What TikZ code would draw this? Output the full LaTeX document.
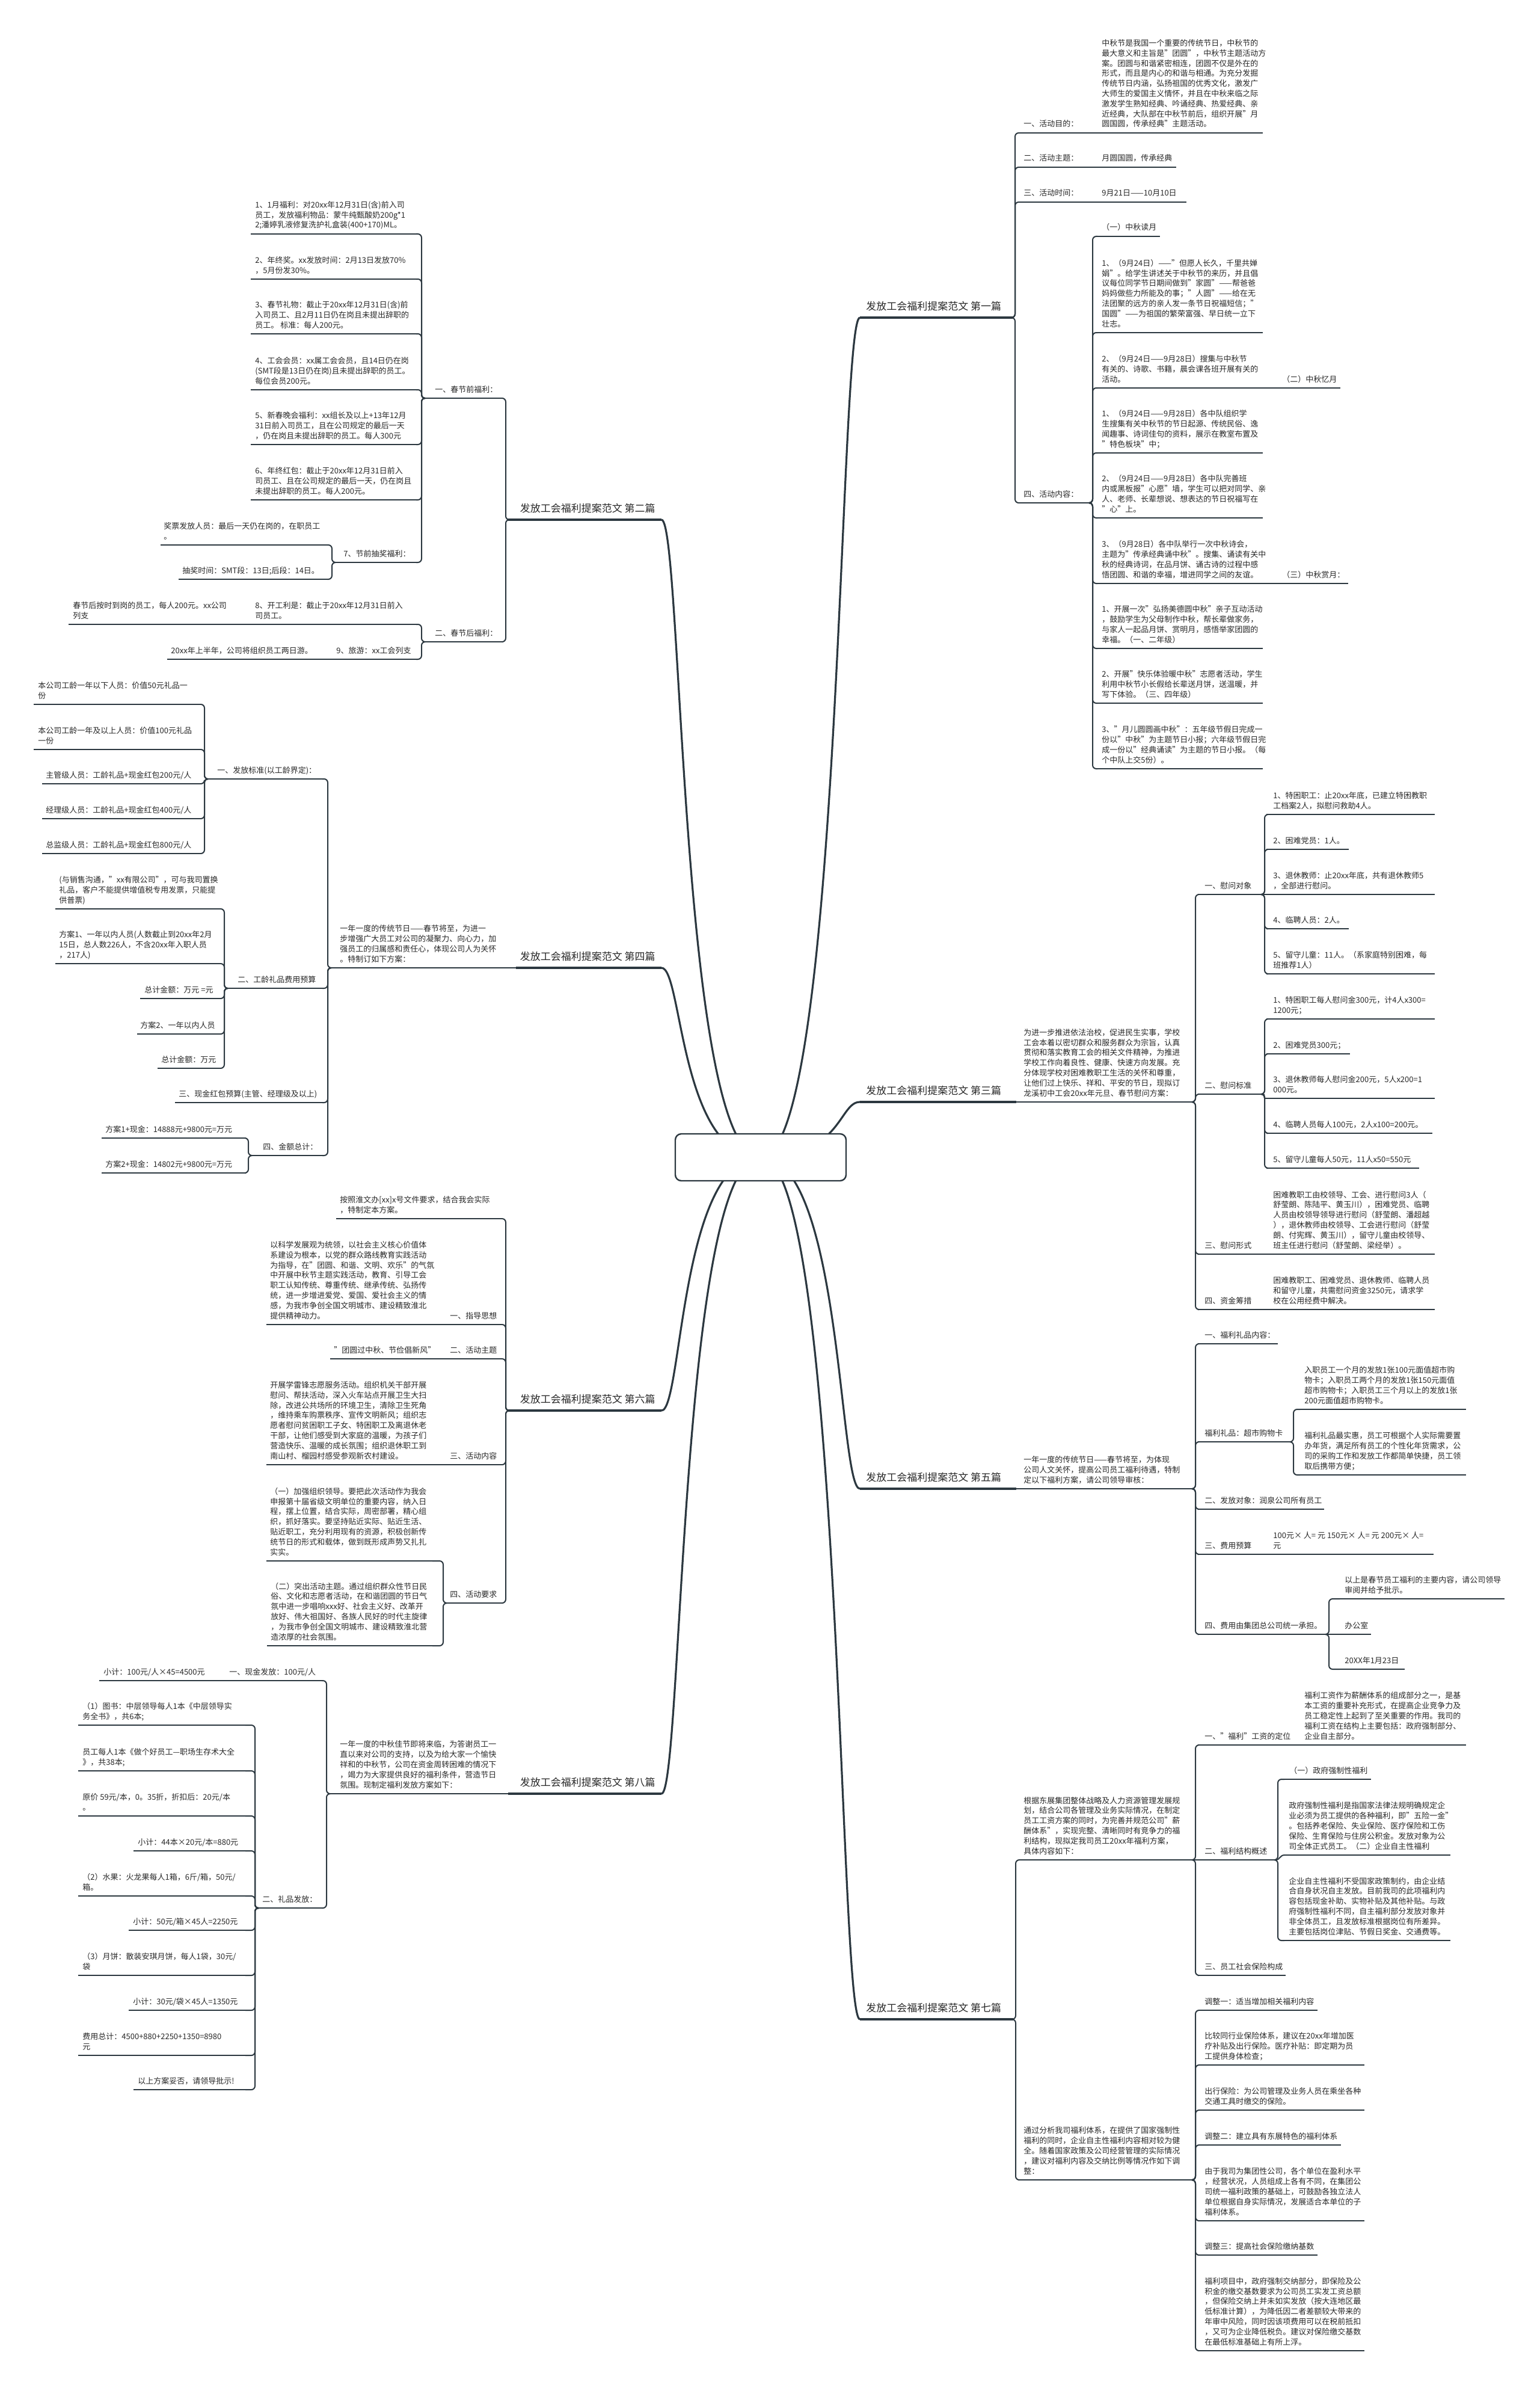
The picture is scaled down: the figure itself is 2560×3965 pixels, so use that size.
\documentclass[tikz,border=0pt]{standalone}
\usepackage{fontspec}
\setmainfont{Noto Sans CJK SC}
\definecolor{linec}{RGB}{44,56,64}
\definecolor{txtc}{RGB}{40,40,40}
\newcommand{\mytl}[1]{\begin{tabular}[b]{@{}l@{}}#1\end{tabular}}
\tikzset{
  txt/.style={inner sep=0pt, anchor=base west, font=\fontsize{6.5}{8.4}\selectfont, text=txtc},
  mtxt/.style={inner sep=0pt, font=\fontsize{8.5}{10}\selectfont, text=txtc},
  ul/.style={line width=1pt, draw=linec},
  mul/.style={line width=1.6pt, draw=linec},
  cn/.style={line width=1pt, draw=linec, rounded corners=3pt},
  mcn/.style={line width=1.6pt, draw=linec},
  rootbox/.style={draw=linec, line width=1.2pt, rounded corners=5pt, fill=white, minimum width=142pt, minimum height=39pt, inner sep=0pt}
}
% node with underline: [text offset]{name}{xL}{xR}{yU}{text}
\newcommand{\mynd}[6][8]{%
  \coordinate (#2-l) at (#3,#5);
  \coordinate (#2-r) at (#4,#5);
  \draw[ul] (#2-l) -- (#2-r);
  \node[txt] (#2) at (#3+#1,#5-10) {\mytl{#6}};
}
\newcommand{\mainR}[5]{%
  \coordinate (#1-l) at (#2,#4);
  \coordinate (#1-r) at (#3,#4);
  \draw[mul] (#1-l) -- (#1-r);
  \node[mtxt, anchor=base west] (#1) at (#2+10,#4-13) {#5};
}
\newcommand{\mainL}[5]{%
  \coordinate (#1-l) at (#2,#4);
  \coordinate (#1-r) at (#3,#4);
  \draw[mul] (#1-l) -- (#1-r);
  \node[mtxt, anchor=base east] (#1) at (#3-10,#4-13) {#5};
}
\newcommand{\conR}[2]{\draw[cn] (#1-r) -- ++(4,0) |- (#2-l);}
\newcommand{\conL}[2]{\draw[cn] (#1-l) -- ++(-4,0) |- (#2-r);}
\newcommand{\strR}[2]{\draw[cn] (#1-r) -- (#2-l);}
\newcommand{\strL}[2]{\draw[cn] (#1-l) -- (#2-r);}
\newcommand{\curR}[2]{\draw[cn] (#1-r) .. controls +(8,0) and +(-8,0) .. (#2-l);}

\begin{document}
\begin{tikzpicture}[x=0.5pt, y=-0.5pt]
\fill[white] (0,0) rectangle (2560,3965);
\useasboundingbox (0,0) rectangle (2560,3965);

% ================= 第一篇 =================
\mainR{M1}{1430}{1684}{528}{发放工会福利提案范文 第一篇}
\mynd{A1}{1694}{1801}{221}{一、活动目的：}
\mynd[7]{A1a}{1825}{2100}{221}{中秋节是我国一个重要的传统节日，中秋节的\\最大意义和主旨是"团圆"，中秋节主题活动方\\案。团圆与和谐紧密相连，团圆不仅是外在的\\形式，而且是内心的和谐与相通。为充分发掘\\传统节日内涵，弘扬祖国的优秀文化，激发广\\大师生的爱国主义情怀，并且在中秋来临之际\\激发学生熟知经典、吟诵经典、热爱经典、亲\\近经典，大队部在中秋节前后，组织开展"月\\圆国圆，传承经典"主题活动。}
\mynd{A2}{1694}{1801}{278}{二、活动主题：}
\mynd[7]{A2a}{1825}{1956}{278}{月圆国圆，传承经典}
\mynd{A3}{1694}{1801}{336}{三、活动时间：}
\mynd[7]{A3a}{1825}{1973}{336}{9月21日——10月10日}
\mynd{A4}{1694}{1813}{836}{四、活动内容：}
\mynd[7]{A41}{1825}{1929}{393}{（一）中秋读月}
\mynd[7]{A42}{1825}{2100}{553}{1、（9月24日）——"但愿人长久，千里共婵\\娟"。给学生讲述关于中秋节的来历，并且倡\\议每位同学节日期间做到"家圆"——帮爸爸\\妈妈做些力所能及的事；"人圆"——给在无\\法团聚的远方的亲人发一条节日祝福短信；"\\国圆"——为祖国的繁荣富强、早日统一立下\\壮志。}
\mynd[7]{A43}{1825}{2100}{645}{2、（9月24日——9月28日）搜集与中秋节\\有关的、诗歌、书籍，晨会课各班开展有关的\\活动。}
\mynd[8]{A43a}{2124}{2229}{645}{（二）中秋忆月}
\mynd[7]{A44}{1825}{2100}{753}{1、（9月24日——9月28日）各中队组织学\\生搜集有关中秋节的节日起源、传统民俗、逸\\闻趣事、诗词佳句的资料，展示在教室布置及\\"特色板块"中；}
\mynd[7]{A45}{1825}{2100}{861}{2、（9月24日——9月28日）各中队完善班\\内或黑板报"心愿"墙，学生可以把对同学、亲\\人、老师、长辈想说、想表达的节日祝福写在\\"心"上。}
\mynd[7]{A46}{1825}{2100}{970}{3、（9月28日）各中队举行一次中秋诗会，\\主题为"传承经典诵中秋"。搜集、诵读有关中\\秋的经典诗词，在品月饼、诵古诗的过程中感\\悟团圆、和谐的幸福，增进同学之间的友谊。}
\mynd[8]{A46a}{2124}{2242}{970}{（三）中秋赏月：}
\mynd[7]{A47}{1825}{2100}{1078}{1、开展一次"弘扬美德圆中秋"亲子互动活动\\，鼓励学生为父母制作中秋，帮长辈做家务，\\与家人一起品月饼、赏明月，感悟举家团圆的\\幸福。（一、二年级）}
\mynd[7]{A48}{1825}{2100}{1169}{2、开展"快乐体验暖中秋"志愿者活动，学生\\利用中秋节小长假给长辈送月饼，送温暖，并\\写下体验。（三、四年级）}
\mynd[7]{A49}{1825}{2100}{1278}{3、"月儿圆圆画中秋"：五年级节假日完成一\\份以"中秋"为主题节日小报；六年级节假日完\\成一份以"经典诵读"为主题的节日小报。（每\\个中队上交5份）。}

\conR{M1}{A1} \conR{M1}{A2} \conR{M1}{A3} \conR{M1}{A4}
\strR{A1}{A1a} \strR{A2}{A2a} \strR{A3}{A3a}
\conR{A4}{A41} \conR{A4}{A42} \conR{A4}{A43} \conR{A4}{A44} \conR{A4}{A45}
\conR{A4}{A46} \conR{A4}{A47} \conR{A4}{A48} \conR{A4}{A49}
\strR{A43}{A43a} \strR{A46}{A46a}

% ================= 第三篇 =================
\mainR{M3}{1430}{1690}{1832}{发放工会福利提案范文 第三篇}
\mynd[6]{B0}{1696}{1984}{1832}{为进一步推进依法治校，促进民生实事，学校\\工会本着以密切群众和服务群众为宗旨，认真\\贯彻和落实教育工会的相关文件精神，为推进\\学校工作向着良性、健康、快速方向发展。充\\分体现学校对困难教职工生活的关怀和尊重，\\让他们过上快乐、祥和、平安的节日，现拟订\\龙溪初中工会20xx年元旦、春节慰问方案：}
\mynd[11]{B1}{1992}{2099}{1487}{一、慰问对象}
\mynd[11]{B11}{2106}{2386}{1354}{1、特困职工：止20xx年底，已建立特困教职\\工档案2人，拟慰问救助4人。}
\mynd[11]{B12}{2106}{2243}{1412}{2、困难党员：1人。}
\mynd[11]{B13}{2106}{2386}{1487}{3、退休教师：止20xx年底，共有退休教师5\\，全部进行慰问。}
\mynd[11]{B14}{2106}{2243}{1544}{4、临聘人员：2人。}
\mynd[11]{B15}{2106}{2386}{1619}{5、留守儿童：11人。（系家庭特别困难，每\\班推荐1人）}
\mynd[11]{B2}{1992}{2099}{1819}{二、慰问标准}
\mynd[11]{B21}{2106}{2386}{1694}{1、特困职工每人慰问金300元，计4人x300=\\1200元；}
\mynd[11]{B22}{2106}{2245}{1752}{2、困难党员300元；}
\mynd[11]{B23}{2106}{2386}{1826}{3、退休教师每人慰问金200元，5人x200=1\\000元。}
\mynd[11]{B24}{2106}{2382}{1884}{4、临聘人员每人100元，2人x100=200元。}
\mynd[11]{B25}{2106}{2360}{1942}{5、留守儿童每人50元，11人x50=550元}
\mynd[11]{B3}{1992}{2099}{2085}{三、慰问形式}
\mynd[11]{B31}{2106}{2386}{2085}{困难教职工由校领导、工会、进行慰问3人（\\舒莹朗、陈陆平、黄玉川），困难党员、临聘\\人员由校领导领导进行慰问（舒莹朗、潘超越\\），退休教师由校领导、工会进行慰问（舒莹\\朗、付宪辉、黄玉川），留守儿童由校领导、\\班主任进行慰问（舒莹朗、梁经举）。}
\mynd[11]{B4}{1992}{2099}{2177}{四、资金筹措}
\mynd[11]{B41}{2106}{2386}{2177}{困难教职工、困难党员、退休教师、临聘人员\\和留守儿童，共需慰问资金3250元，请求学\\校在公用经费中解决。}

\strR{M3}{B0}
\conR{B0}{B1} \conR{B0}{B2} \conR{B0}{B3} \conR{B0}{B4}
\conR{B1}{B11} \conR{B1}{B12} \strR{B1}{B13} \conR{B1}{B14} \conR{B1}{B15}
\conR{B2}{B21} \conR{B2}{B22} \curR{B2}{B23} \conR{B2}{B24} \conR{B2}{B25}
\strR{B3}{B31} \strR{B4}{B41}

% ================= 第五篇 =================
\mainR{M5}{1430}{1690}{2475}{发放工会福利提案范文 第五篇}
\mynd[6]{C0}{1696}{1984}{2475}{一年一度的传统节日——春节将至，为体现\\公司人文关怀，提高公司员工福利待遇，特制\\定以下福利方案，请公司领导审核：}
\mynd[11]{C1}{1992}{2125}{2234}{一、福利礼品内容：}
\mynd[11]{C2}{1992}{2147}{2397}{福利礼品：超市购物卡}
\mynd[7]{C21}{2162}{2438}{2343}{入职员工一个月的发放1张100元面值超市购\\物卡；入职员工两个月的发放1张150元面值\\超市购物卡；入职员工三个月以上的发放1张\\200元面值超市购物卡。}
\mynd[7]{C22}{2162}{2438}{2452}{福利礼品最实惠，员工可根据个人实际需要置\\办年货，满足所有员工的个性化年货需求，公\\司的采购工作和发放工作都简单快捷，员工领\\取后携带方便；}
\mynd[11]{C3}{1992}{2202}{2509}{二、发放对象：润泉公司所有员工}
\mynd[11]{C4}{1992}{2088}{2584}{三、费用预算}
\mynd[7]{C41}{2110}{2384}{2584}{100元× 人= 元 150元× 人= 元 200元× 人=\\元}
\mynd[11]{C5}{1992}{2206}{2717}{四、费用由集团总公司统一承担。}
\mynd[8]{C51}{2228}{2502}{2658}{以上是春节员工福利的主要内容，请公司领导\\审阅并给予批示。}
\mynd[8]{C52}{2228}{2280}{2717}{办公室}
\mynd[8]{C53}{2228}{2336}{2775}{20XX年1月23日}

\strR{M5}{C0}
\conR{C0}{C1} \conR{C0}{C2} \conR{C0}{C3} \conR{C0}{C4} \conR{C0}{C5}
\conR{C2}{C21} \conR{C2}{C22}
\strR{C4}{C41}
\conR{C5}{C51} \strR{C5}{C52} \conR{C5}{C53}

% ================= 第七篇 =================
\mainR{M7}{1430}{1685}{3357}{发放工会福利提案范文 第七篇}
\mynd[8]{D1}{1694}{1984}{3092}{根据东展集团整体战略及人力资源管理发展规\\划，结合公司各管理及业务实际情况，在制定\\员工工资方案的同时，为完善并规范公司"薪\\酬体系"，实现完整、清晰同时有竞争力的福\\利结构，现拟定我司员工20xx年福利方案，\\具体内容如下：}
\mynd[11]{D11}{1992}{2136}{2901}{一、"福利"工资的定位}
\mynd[7]{D11a}{2162}{2438}{2901}{福利工资作为薪酬体系的组成部分之一，是基\\本工资的重要补充形式，在提高企业竞争力及\\员工稳定性上起到了至关重要的作用。我司的\\福利工资在结构上主要包括：政府强制部分、\\企业自主部分。}
\mynd[11]{D12}{1992}{2121}{3092}{二、福利结构概述}
\mynd[8]{D121}{2136}{2280}{2958}{（一）政府强制性福利}
\mynd[7]{D122}{2136}{2412}{3084}{政府强制性福利是指国家法律法规明确规定企\\业必须为员工提供的各种福利，即"五险一金"\\。包括养老保险、失业保险、医疗保险和工伤\\保险、生育保险与住房公积金。发放对象为公\\司全体正式员工。（二）企业自主性福利}
\mynd[7]{D123}{2136}{2412}{3226}{企业自主性福利不受国家政策制约，由企业结\\合自身状况自主发放。目前我司的此项福利内\\容包括现金补助、实物补贴及其他补贴。与政\\府强制性福利不同，自主福利部分发放对象并\\非全体员工，且发放标准根据岗位有所差异。\\主要包括岗位津贴、节假日奖金、交通费等。}
\mynd[11]{D13}{1992}{2138}{3284}{三、员工社会保险构成}
\mynd[8]{D2}{1694}{1984}{3624}{通过分析我司福利体系，在提供了国家强制性\\福利的同时，企业自主性福利内容相对较为健\\全。随着国家政策及公司经营管理的实际情况\\，建议对福利内容及交纳比例等情况作如下调\\整：}
\mynd[9]{D21}{1994}{2191}{3342}{调整一：适当增加相关福利内容}
\mynd[9]{D22}{1994}{2269}{3433}{比较同行业保险体系，建议在20xx年增加医\\疗补贴及出行保险。医疗补贴：即定期为员\\工提供身体检查；}
\mynd[9]{D23}{1994}{2269}{3508}{出行保险：为公司管理及业务人员在乘坐各种\\交通工具时缴交的保险。}
\mynd[9]{D24}{1994}{2230}{3566}{调整二：建立具有东展特色的福利体系}
\mynd[9]{D25}{1994}{2269}{3692}{由于我司为集团性公司，各个单位在盈利水平\\，经营状况，人员组成上各有不同，在集团公\\司统一福利政策的基础上，可鼓励各独立法人\\单位根据自身实际情况，发展适合本单位的子\\福利体系。}
\mynd[9]{D26}{1994}{2191}{3749}{调整三：提高社会保险缴纳基数}
\mynd[9]{D27}{1994}{2269}{3908}{福利项目中，政府强制交纳部分，即保险及公\\积金的缴交基数要求为公司员工实发工资总额\\，但保险交纳上并未如实发放（按大连地区最\\低标准计算），为降低因二者差额较大带来的\\年审中风险，同时因该项费用可以在税前抵扣\\，又可为企业降低税负。建议对保险缴交基数\\在最低标准基础上有所上浮。}

\conR{M7}{D1} \conR{M7}{D2}
\conR{D1}{D11} \strR{D1}{D12} \conR{D1}{D13}
\strR{D11}{D11a}
\conR{D12}{D121} \curR{D12}{D122} \conR{D12}{D123}
\conR{D2}{D21} \conR{D2}{D22} \conR{D2}{D23} \conR{D2}{D24}
\conR{D2}{D25} \conR{D2}{D26} \conR{D2}{D27}

% ================= 第二篇 =================
\mainL{M2}{845}{1100}{864}{发放工会福利提案范文 第二篇}
\mynd[18]{E1}{705}{836}{662}{一、春节前福利：}
\mynd[7]{E11}{417}{692}{389}{1、1月福利：对20xx年12月31日(含)前入司\\员工，发放福利物品：蒙牛纯甄酸奶200g*1\\2;潘婷乳液修复洗护礼盒装(400+170)ML。}
\mynd[7]{E12}{417}{692}{464}{2、年终奖。xx发放时间：2月13日发放70\%\\，5月份发30\%。}
\mynd[7]{E13}{417}{692}{555}{3、春节礼物：截止于20xx年12月31日(含)前\\入司员工、且2月11日仍在岗且未提出辞职的\\员工。 标准：每人200元。}
\mynd[7]{E14}{417}{692}{648}{4、工会会员：xx属工会会员，且14日仍在岗\\(SMT段是13日仍在岗)且未提出辞职的员工。\\每位会员200元。}
\mynd[7]{E15}{417}{692}{739}{5、新春晚会福利：xx组长及以上+13年12月\\31日前入司员工，且在公司规定的最后一天\\，仍在岗且未提出辞职的员工。每人300元}
\mynd[7]{E16}{417}{692}{831}{6、年终红包：截止于20xx年12月31日前入\\司员工、且在公司规定的最后一天，仍在岗且\\未提出辞职的员工。每人200元。}
\mynd[15]{E17}{556}{692}{935}{7、节前抽奖福利：}
\mynd[5]{E171}{267}{545}{906}{奖票发放人员：最后一天仍在岗的，在职员工\\。}
\mynd[6]{E172}{297}{545}{963}{抽奖时间：SMT段：13日;后段：14日。}
\mynd[18]{E2}{705}{836}{1067}{二、春节后福利：}
\mynd[7]{E21}{417}{692}{1038}{8、开工利是：截止于20xx年12月31日前入\\司员工。}
\mynd[7]{E21a}{114}{408}{1038}{春节后按时到岗的员工，每人200元。xx公司\\列支}
\mynd[7]{E22}{552}{692}{1096}{9、旅游：xx工会列支}
\mynd[6]{E22a}{278}{533}{1096}{20xx年上半年，公司将组织员工两日游。}

\conL{M2}{E1} \conL{M2}{E2}
\conL{E1}{E11} \conL{E1}{E12} \conL{E1}{E13} \conL{E1}{E14}
\conL{E1}{E15} \conL{E1}{E16} \conL{E1}{E17}
\conL{E17}{E171} \conL{E17}{E172}
\conL{E2}{E21} \conL{E2}{E22}
\strL{E21}{E21a} \strL{E22}{E22a}

% ================= 第四篇 =================
\mainL{M4}{858}{1100}{1609}{发放工会福利提案范文 第四篇}
\mynd[16]{F0}{549}{852}{1609}{一年一度的传统节日——春节将至，为进一\\步增强广大员工对公司的凝聚力、向心力，加\\强员工的归属感和责任心，体现公司人为关怀\\。特制订如下方案：}
\mynd[17]{F1}{344}{536}{1295}{一、发放标准(以工龄界定)：}
\mynd[7]{F11}{56}{334}{1171}{本公司工龄一年以下人员：价值50元礼品一\\份}
\mynd[7]{F12}{56}{334}{1246}{本公司工龄一年及以上人员：价值100元礼品\\一份}
\mynd[6]{F13}{70}{334}{1303}{主管级人员：工龄礼品+现金红包200元/人}
\mynd[6]{F14}{70}{334}{1361}{经理级人员：工龄礼品+现金红包400元/人}
\mynd[6]{F15}{70}{334}{1419}{总监级人员：工龄礼品+现金红包800元/人}
\mynd[18]{F2}{377}{536}{1643}{二、工龄礼品费用预算}
\mynd[6]{F21}{92}{367}{1511}{(与销售沟通，"xx有限公司"，可与我司置换\\礼品，客户不能提供增值税专用发票，只能提\\供普票)}
\mynd[6]{F22}{92}{367}{1602}{方案1、一年以内人员(人数截止到20xx年2月\\15日，总人数226人，不含20xx年入职人员\\，217人)}
\mynd[7]{F23}{233}{367}{1660}{总计金额：万元 =元}
\mynd[5]{F24}{228}{367}{1719}{方案2、一年以内人员}
\mynd[6]{F25}{262}{367}{1776}{总计金额：万元}
\mynd[6]{F3}{291}{536}{1833}{三、现金红包预算(主管、经理级及以上)}
\mynd[20]{F4}{417}{536}{1921}{四、金额总计：}
\mynd[6]{F41}{169}{409}{1892}{方案1+现金：14888元+9800元=万元}
\mynd[6]{F42}{169}{409}{1950}{方案2+现金：14802元+9800元=万元}

\strL{M4}{F0}
\conL{F0}{F1} \conL{F0}{F2} \conL{F0}{F3} \conL{F0}{F4}
\conL{F1}{F11} \conL{F1}{F12} \conL{F1}{F13} \conL{F1}{F14} \conL{F1}{F15}
\conL{F2}{F21} \conL{F2}{F22} \conL{F2}{F23} \conL{F2}{F24} \conL{F2}{F25}
\conL{F4}{F41} \conL{F4}{F42}

% ================= 第六篇 =================
\mainL{M6}{845}{1100}{2345}{发放工会福利提案范文 第六篇}
\mynd[6]{G0}{559}{835}{2026}{按照淮文办[xx]x号文件要求，结合我会实际\\，特制定本方案。}
\mynd[5]{G1}{743}{835}{2202}{一、指导思想}
\mynd[6]{G1a}{443}{717}{2202}{以科学发展观为统领，以社会主义核心价值体\\系建设为根本，以党的群众路线教育实践活动\\为指导，在"团圆、和谐、文明、欢乐"的气氛\\中开展中秋节主题实践活动，教育、引导工会\\职工认知传统、尊重传统、继承传统、弘扬传\\统，进一步增进爱党、爱国、爱社会主义的情\\感，为我市争创全国文明城市、建设精致淮北\\提供精神动力。}
\mynd[5]{G2}{743}{835}{2259}{二、活动主题}
\mynd[6]{G2a}{549}{717}{2259}{"团圆过中秋、节俭倡新风"}
\mynd[5]{G3}{743}{835}{2435}{三、活动内容}
\mynd[6]{G3a}{443}{717}{2435}{开展学雷锋志愿服务活动。组织机关干部开展\\慰问、帮扶活动，深入火车站点开展卫生大扫\\除，改进公共场所的环境卫生，清除卫生死角\\，维持乘车购票秩序、宣传文明新风；组织志\\愿者慰问贫困职工子女、特困职工及离退休老\\干部，让他们感受到大家庭的温暖，为孩子们\\营造快乐、温暖的成长氛围；组织退休职工到\\南山村、榴园村感受参观新农村建设。}
\mynd[7]{G4}{741}{835}{2665}{四、活动要求}
\mynd[6]{G41}{443}{719}{2595}{（一）加强组织领导。要把此次活动作为我会\\申报第十届省级文明单位的重要内容，纳入日\\程，摆上位置，结合实际，周密部署，精心组\\织，抓好落实。要坚持贴近实际、贴近生活、\\贴近职工，充分利用现有的资源，积极创新传\\统节日的形式和载体，做到既形成声势又扎扎\\实实。}
\mynd[6]{G42}{444}{719}{2736}{（二）突出活动主题。通过组织群众性节日民\\俗、文化和志愿者活动，在和谐团圆的节日气\\氛中进一步唱响xxx好、社会主义好、改革开\\放好、伟大祖国好、各族人民好的时代主旋律\\，为我市争创全国文明城市、建设精致淮北营\\造浓厚的社会氛围。}

\conL{M6}{G0} \conL{M6}{G1} \conL{M6}{G2} \conL{M6}{G3} \conL{M6}{G4}
\strL{G1}{G1a} \strL{G2}{G2a} \strL{G3}{G3a}
\conL{G4}{G41} \conL{G4}{G42}

% ================= 第八篇 =================
\mainL{M8}{845}{1100}{2982}{发放工会福利提案范文 第八篇}
\mynd[18]{H0}{547}{837}{2982}{一年一度的中秋佳节即将来临，为答谢员工一\\直以来对公司的支持，以及为给大家一个愉快\\祥和的中秋节，公司在资金周转困难的情况下\\，竭力为大家提供良好的福利条件，营造节日\\氛围。现制定福利发放方案如下：}
\mynd[6]{H1}{375}{535}{2794}{一、现金发放：100元/人}
\mynd[7]{H1a}{165}{349}{2794}{小计：100元/人×45=4500元}
\mynd[8]{H2}{428}{535}{3172}{二、礼品发放：}
\mynd[7]{H21}{130}{408}{2868}{（1）图书：中层领导每人1本《中层领导实\\务全书》，共6本;}
\mynd[7]{H22}{130}{408}{2944}{员工每人1本《做个好员工—职场生存术大全\\》，共38本;}
\mynd[7]{H23}{130}{408}{3019}{原价 59元/本，0。35折，折扣后：20元/本\\。}
\mynd[7]{H24}{222}{408}{3077}{小计：44本×20元/本=880元}
\mynd[7]{H25}{130}{408}{3152}{（2）水果：火龙果每人1箱，6斤/箱，50元/\\箱。}
\mynd[7]{H26}{214}{408}{3209}{小计：50元/箱×45人=2250元}
\mynd[7]{H27}{130}{408}{3284}{（3）月饼：散装安琪月饼，每人1袋，30元/\\袋}
\mynd[7]{H28}{214}{408}{3342}{小计：30元/袋×45人=1350元}
\mynd[7]{H29}{130}{408}{3417}{费用总计：4500+880+2250+1350=8980\\元}
\mynd[7]{H210}{222}{408}{3474}{以上方案妥否，请领导批示!}

\strL{M8}{H0}
\conL{H0}{H1} \conL{H0}{H2}
\strL{H1}{H1a}
\conL{H2}{H21} \conL{H2}{H22} \conL{H2}{H23} \conL{H2}{H24} \conL{H2}{H25}
\conL{H2}{H26} \conL{H2}{H27} \conL{H2}{H28} \conL{H2}{H29} \conL{H2}{H210}

% ================= root =================
\coordinate (ctr) at (1265,1924);
\draw[mcn] (ctr) .. controls (1400,1924) and (1395,528) .. (M1-l);
\draw[mcn] (ctr) .. controls (1400,1924) and (1395,1832) .. (M3-l);
\draw[mcn] (ctr) .. controls (1400,1924) and (1395,2475) .. (M5-l);
\draw[mcn] (ctr) .. controls (1400,1924) and (1395,3357) .. (M7-l);
\draw[mcn] (ctr) .. controls (1130,1924) and (1135,864) .. (M2-r);
\draw[mcn] (ctr) .. controls (1130,1924) and (1135,1609) .. (M4-r);
\draw[mcn] (ctr) .. controls (1130,1924) and (1135,2345) .. (M6-r);
\draw[mcn] (ctr) .. controls (1130,1924) and (1135,2982) .. (M8-r);
\node[rootbox] (root) at (ctr) {};
\end{tikzpicture}
\end{document}
